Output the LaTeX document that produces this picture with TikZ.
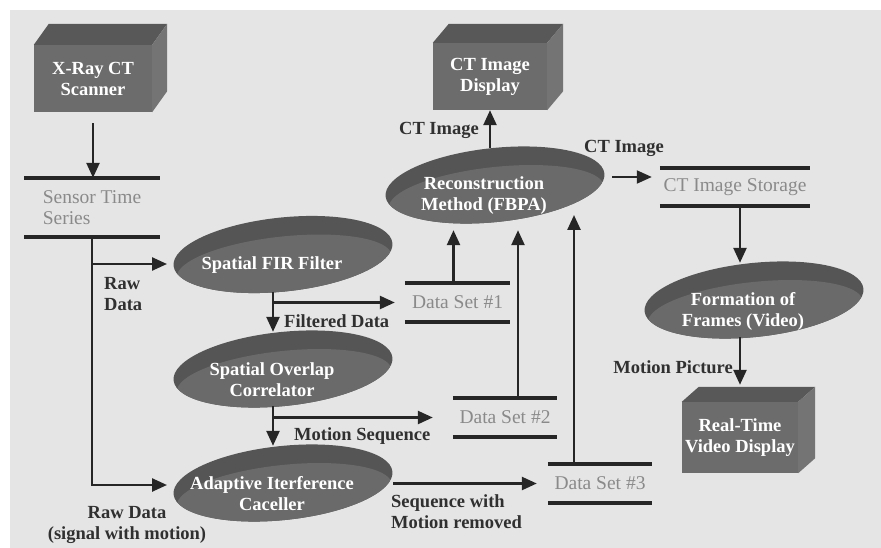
\documentclass[tikz,border=0pt]{standalone}
\usepackage{fontspec}
\setmainfont{Liberation Serif}
\usetikzlibrary{arrows.meta,shapes.geometric,backgrounds}
\definecolor{bg}{HTML}{E5E5E5}
\definecolor{linegray}{HTML}{262626}
\definecolor{lblgray}{HTML}{303030}
\definecolor{storegray}{HTML}{8A8A8A}
\definecolor{boxfront}{HTML}{6C6C6C}
\definecolor{boxtop}{HTML}{585858}
\definecolor{boxside}{HTML}{747474}
\definecolor{discdark}{HTML}{555555}
\definecolor{discmid}{HTML}{6A6A6A}
\tikzset{
  arr/.style={draw=linegray, line width=2.5pt, -{Triangle[length=15pt,width=13pt]}},
  lbl/.style={font=\fontsize{18.5}{21}\selectfont\bfseries, text=lblgray, inner sep=0pt},
  store/.style={rectangle, inner sep=0pt, minimum height=39pt, text=storegray, align=center,
    font=\fontsize{19.5}{21}\selectfont},
  storeline/.style={draw=linegray, line width=4pt},
  cube/.style={rectangle, inner sep=0pt, fill=boxfront, text=white, align=center,
    font=\fontsize{18.5}{21}\selectfont\bfseries},
  disc/.style={ellipse, inner sep=0pt, minimum width=220pt, minimum height=74pt},
  disctext/.style={text=white, align=center, inner sep=0pt, xshift=-11pt, yshift=-11pt,
    font=\fontsize{18.5}{21}\selectfont\bfseries}
}
\begin{document}
\begin{tikzpicture}[x=1pt,y=-1pt]
\useasboundingbox (0,0) rectangle (881,548);

% devices
\node[cube, minimum width=118pt, minimum height=67pt] (scan) at (93,78.5) {X-Ray CT\\Scanner};
\node[cube, minimum width=114pt, minimum height=67pt] (disp) at (490,76.5) {CT Image\\Display};
\node[cube, minimum width=116pt, minimum height=71pt] (video) at (740,437.5) {Real-Time\\Video Display};
\foreach \n/\dx/\dy in {scan/15/-21, disp/16/-19, video/17/-15}{
  \fill[boxtop] (\n.north west) -- ++(\dx,\dy) -- ([shift={(\dx,\dy)}]\n.north east) -- (\n.north east) -- cycle;
  \fill[boxside] (\n.north east) -- ([shift={(\dx,\dy)}]\n.north east) -- ([shift={(\dx,\dy)}]\n.south east) -- (\n.south east) -- cycle;
}

% data stores
\node[store, minimum width=135pt, minimum height=59pt, align=left] (sts) at (92,207.5) {Sensor Time\\Series};
\node[store, minimum width=150pt, minimum height=38pt] (cts) at (735,187) {CT Image Storage};
\node[store, minimum width=105pt] (ds1) at (457.5,302.5) {Data Set \#1};
\node[store, minimum width=104pt] (ds2) at (505,417.5) {Data Set \#2};
\node[store, minimum width=104pt] (ds3) at (600,483.5) {Data Set \#3};
\foreach \n in {sts,cts,ds1,ds2,ds3}{
  \draw[storeline] (\n.north west) -- (\n.north east);
  \draw[storeline] (\n.south west) -- (\n.south east);
}

% processes
\node[disc, label={[disctext]center:{Spatial FIR Filter}}] (fir) at (283,254.5) {};
\node[disc, label={[disctext]center:{Spatial Overlap\\Correlator}}] (cor) at (283,369) {};
\node[disc, label={[disctext]center:{Adaptive Iterference\\Caceller}}] (aic) at (283,483) {};
\node[disc, label={[disctext]center:{Reconstruction\\Method (FBPA)}}] (rec) at (495,185) {};
\node[disc, label={[disctext]center:{Formation of\\Frames (Video)}}] (frm) at (754,300) {};

\begin{scope}[on background layer]
\fill[bg] (10,10) rectangle (881,548);
\foreach \n in {fir,cor,aic,rec,frm}{
  \fill[discdark, rotate around={6:(\n.center)}] (\n.center) ellipse [x radius=110pt, y radius=37pt];
  \begin{scope}
    \clip[rotate around={6:(\n.center)}] (\n.center) ellipse [x radius=110pt, y radius=37pt];
    \fill[discmid, rotate around={6:(\n.center)}] ([yshift=-12pt]\n.center) ellipse [x radius=108pt, y radius=30pt];
  \end{scope}
}
\end{scope}

% flows
\coordinate (firin) at (167,264);
\coordinate (aicin) at (167,485);
\coordinate (firout) at ([xshift=-10pt]fir.south);
\coordinate (corout) at ([xshift=-10pt]cor.south);
\coordinate (c1) at ([xshift=-4pt]ds1.north);
\coordinate (c2) at ([xshift=13pt]ds2.north);
\coordinate (c3) at ([xshift=-26pt]ds3.north);
\coordinate (c4) at ([shift={(7,-8)}]rec.east);
\coordinate (c5) at ([xshift=5pt]cts.south);

\draw[arr] ([yshift=-11pt]scan.south) -- (scan.south |- sts.north);
\draw[arr] (sts.south) |- (aicin);
\draw[arr] (sts.south |- firin) -- (firin);
\draw[arr] (firout) -- (firout |- cor.north);
\draw[arr, shorten >=10pt] (firout |- ds1.west) -- (ds1.west);
\draw[arr] (corout) -- (corout |- aic.north);
\draw[arr, shorten >=20pt] (corout |- ds2.west) -- (ds2.west);
\draw[arr, shorten >=11pt] (aic.east |- ds3.west) -- (ds3.west);
\draw[arr, shorten >=8pt] (c1) -- (c1 |- rec.south);
\draw[arr, shorten >=8pt] (c2) -- (c2 |- rec.south);
\draw[arr, shorten >=30pt] (c3) -- (c3 |- rec.center);
\draw[arr] (disp.south |- rec.north) -- (disp.south);
\draw[arr, line width=2pt, shorten >=8pt] (c4) -- (c4 -| cts.west);
\draw[arr] (c5) -- (c5 |- frm.north);
\draw[arr, shorten >=17pt] (c5 |- frm.south) -- (c5 |- video.north);

% labels
\node[lbl, anchor=west, align=left] (lraw) at (104,294) {Raw\\Data};
\node[lbl, align=center] (lrawm) at (127,525) {Raw Data\\(signal with motion)};
\node[lbl, anchor=west] (lfilt) at (284,321) {Filtered Data};
\node[lbl, anchor=west] (lmot) at (294,436) {Motion Sequence};
\node[lbl, anchor=west, align=left] (lseq) at (391,512) {Sequence with\\Motion removed};
\node[lbl, anchor=east] (lct1) at (479,130) {CT Image};
\node[lbl] (lct2) at (624,148) {CT Image};
\node[lbl, anchor=east] (lmp) at (733,367) {Motion Picture};
\end{tikzpicture}
\end{document}
